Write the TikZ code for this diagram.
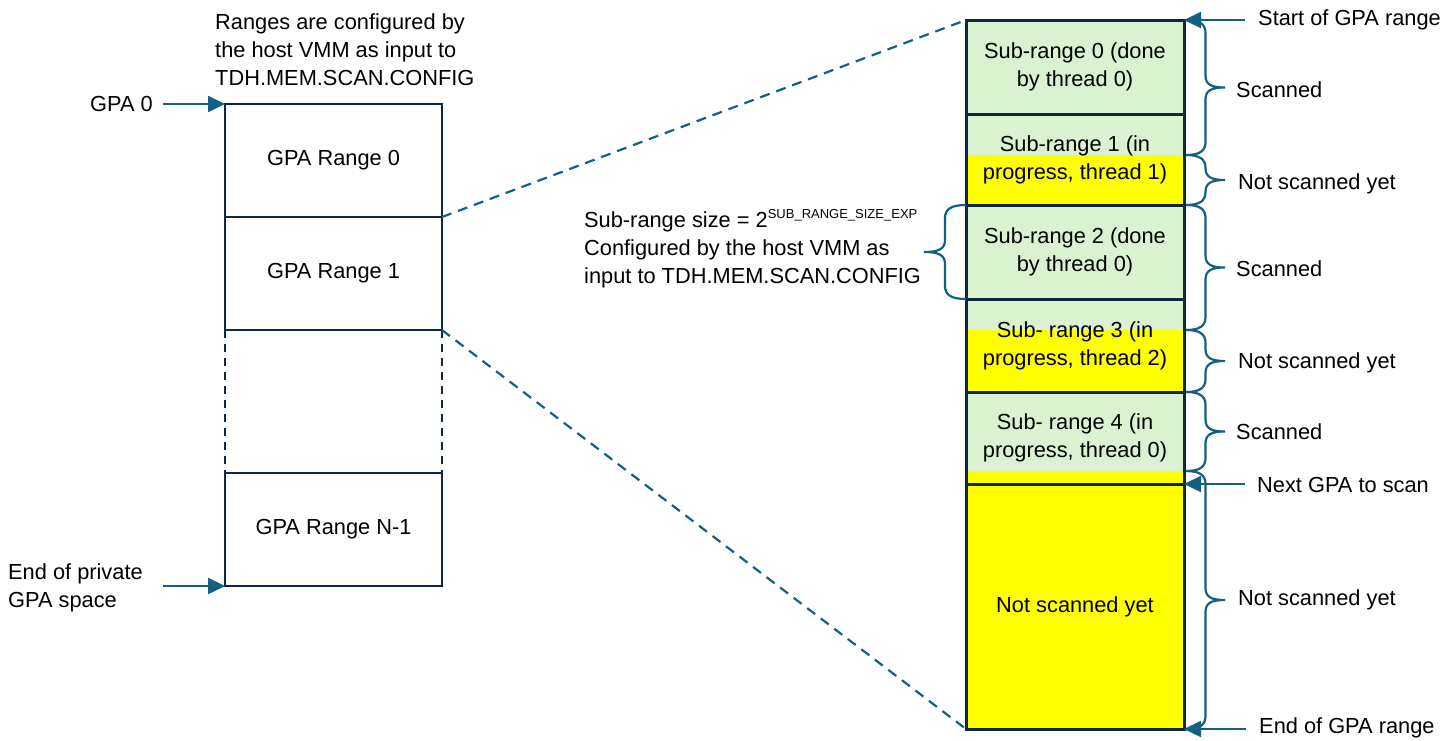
\documentclass[tikz,border=0pt]{standalone}
\usepackage{fontspec}
\setmainfont{Liberation Sans}
\usetikzlibrary{arrows.meta,positioning}

\definecolor{framedark}{HTML}{0E2841}
\definecolor{linkblue}{HTML}{156082}
\definecolor{donegreen}{HTML}{DAF2D0}
\definecolor{todoyellow}{HTML}{FFFF00}

\begin{document}
\begin{tikzpicture}[x=1pt, y=-1pt,
	font={\fontsize{21.8}{28}\selectfont},
	gparange/.style={draw=framedark, line width=2.8pt, minimum width=217, minimum height=113, inner sep=0, outer sep=0},
	subrange/.style={draw=framedark, line width=3pt, minimum width=218, align=center, inner sep=0, outer sep=0},
	pointer/.style={linkblue, line width=2.4pt, -{Triangle[length=17pt,width=16pt]}},
	zoomline/.style={linkblue, line width=2.2pt, dash pattern=on 10pt off 7pt},
	bracepath/.style={linkblue, line width=2.2pt},
	note/.style={inner sep=0, align=left}]
		\useasboundingbox (0,0) rectangle (1454,740);
		
		% GPA ranges
		\node[gparange] (r0) at (333.5,160.5) {GPA Range 0};
		\node[gparange, below=0pt of r0] (r1) {GPA Range 1};
		\node[gparange, below=143pt of r1] (rN) {GPA Range N-1};
		\draw[framedark, line width=2.8pt, dash pattern=on 8pt off 6pt] (r1.south west) -- (rN.north west);
		\draw[framedark, line width=2.8pt, dash pattern=on 8pt off 6pt] (r1.south east) -- (rN.north east);
		
		% Fills
		\fill[donegreen] (966,20) rectangle (1184,484);
		\fill[todoyellow] (966,155) rectangle (1184,205);
		\fill[todoyellow] (966,330) rectangle (1184,392);
		\fill[todoyellow] (966,471) rectangle (1184,729);
		
		% Sub-ranges
		\node[subrange, minimum height=94] (s0) at (1075,67) {Sub-range 0 (done\\by thread 0)};
		\node[subrange, minimum height=91, below=0pt of s0] (s1) {Sub-range 1 (in\\progress, thread 1)};
		\node[subrange, minimum height=94, below=0pt of s1] (s2) {Sub-range 2 (done\\by thread 0)};
		\node[subrange, minimum height=93, below=0pt of s2] (s3) {Sub- range 3 (in\\progress, thread 2)};
		\node[subrange, minimum height=92, below=0pt of s3] (s4) {Sub- range 4 (in\\progress, thread 0)};
		\node[subrange, minimum height=245, below=0pt of s4] (s5) {Not scanned yet};
		
		% Zoom lines
		\draw[zoomline] (r0.south east) -- (s0.north west);
		\draw[zoomline] (r1.south east) -- (s5.south west);
		
		% Braces
		\foreach \xa/\w/\ya/\yb [evaluate=\ya as \ym using (\ya+\yb)/2] in
			{1186/39/20/155, 1186/39/155/205, 1186/39/205/330, 1186/39/330/392, 1186/39/392/471, 1186/39/471/729, 966/-42/205/299}
			\draw[bracepath] (\xa,\ya) .. controls (\xa+0.35*\w,\ya) and (\xa+0.5*\w,\ya+4) .. (\xa+0.5*\w,\ya+13)
				-- (\xa+0.5*\w,\ym-12) .. controls (\xa+0.5*\w,\ym-3) and (\xa+0.65*\w,\ym) .. (\xa+\w,\ym)
				.. controls (\xa+0.65*\w,\ym) and (\xa+0.5*\w,\ym+3) .. (\xa+0.5*\w,\ym+12)
				-- (\xa+0.5*\w,\yb-13) .. controls (\xa+0.5*\w,\yb-4) and (\xa+0.35*\w,\yb) .. (\xa,\yb);
		
		% Pointer tails
		\coordinate (gpa0-tail) at (163,104);
		\coordinate (endpriv-tail) at (163,586);
		\coordinate (start-tail) at (1245,20);
		\coordinate (next-tail) at (1245,484);
		\coordinate (end-tail) at (1246,729);
		
		% Pointers
		\draw[pointer] (gpa0-tail) -- (r0.north west);
		\draw[pointer] (endpriv-tail) -- (rN.south west);
		\draw[pointer] (start-tail) -- (s0.north east);
		\draw[pointer] (next-tail) -- (s5.north east);
		\draw[pointer] (end-tail) -- (s5.south east);
		
		% Nodes
		\node[note, anchor=west] (rangenote) at (215,50) {Ranges are configured by\\the host VMM as input to\\TDH.MEM.SCAN.CONFIG};
		\node[note, anchor=west] (gpa0) at (90,104) {GPA 0};
		\node[note, anchor=west] (endpriv) at (8,588) {End of private\\GPA space};
		\node[note, anchor=west] (sizenote) at (584,249) {Sub-range size = 2\raisebox{0.42em}{\fontsize{13}{13}\selectfont SUB\_RANGE\_SIZE\_EXP}\\Configured by the host VMM as\\input to TDH.MEM.SCAN.CONFIG};
		%
		\node[note, anchor=west] (startlab) at (1258,20) {Start of GPA range};
		\node[note, anchor=west] (nextlab) at (1257,485) {Next GPA to scan};
		\node[note, anchor=west] (endlab) at (1259,728) {End of GPA range};
		%
		\node[note, anchor=west] (scan0) at (1236,90) {Scanned};
		\node[note, anchor=west] (todo1) at (1238,184) {Not scanned yet};
		\node[note, anchor=west] (scan2) at (1236,269) {Scanned};
		\node[note, anchor=west] (todo3) at (1238,363) {Not scanned yet};
		\node[note, anchor=west] (scan4) at (1236,432) {Scanned};
		\node[note, anchor=west] (todo5) at (1238,600) {Not scanned yet};
	\end{tikzpicture}
\end{document}
